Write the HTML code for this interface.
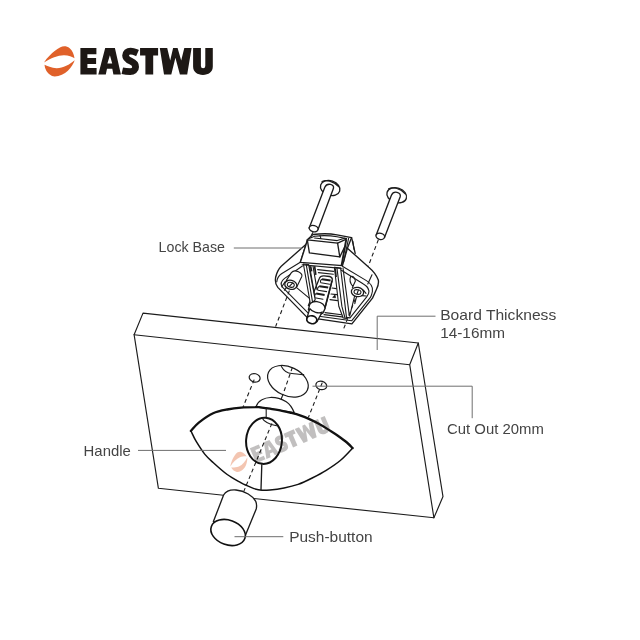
<!DOCTYPE html>
<html>
<head>
<meta charset="utf-8">
<title>EASTWU Push Button Lock Diagram</title>
<style>
html,body{margin:0;padding:0;background:#fff;}
body{width:640px;height:640px;overflow:hidden;font-family:"Liberation Sans",sans-serif;}
svg{display:block;will-change:transform;}
text{font-family:"Liberation Sans",sans-serif;}
.ln{fill:none;stroke:#1c1c1c;stroke-width:1.35;stroke-linecap:round;stroke-linejoin:round;}
.lw{fill:#fff;stroke:#1c1c1c;stroke-width:1.35;stroke-linecap:round;stroke-linejoin:round;}
.th{fill:none;stroke:#1c1c1c;stroke-width:1.1;stroke-linecap:round;stroke-linejoin:round;}
.tw{fill:#fff;stroke:#1c1c1c;stroke-width:1.1;stroke-linecap:round;stroke-linejoin:round;}
.ds{fill:none;stroke:#1c1c1c;stroke-width:1.1;stroke-dasharray:4 3;}
.ld{fill:none;stroke:#6e6e6e;stroke-width:1;}
.lb{font-size:14.4px;fill:#444;}
</style>
</head>
<body>
<svg width="640" height="640" viewBox="0 0 640 640">
<rect width="640" height="640" fill="#fff"/>

<!-- ===== LOGO ===== -->
<g id="logo">
  <g id="icon" fill="#e0612a">
    <path d="M44 62.6 C46.5 58.5 52 52 60.4 47.3 C63 46 66.5 45.8 69.7 48.2 C72.5 50.5 74 54.5 74.5 58.2 C72.5 56.8 68.5 55.4 64.1 55.2 C58 55.1 51 58 44 62.6 Z"/>
    <path d="M74.7 60.2 C73.8 63.5 71 67.5 67.9 70.7 C64.5 74 59.5 76.2 54.75 76.4 C51 76.3 48 73.5 46.3 70.7 C45.2 68.7 44.6 66.8 44.5 64.8 C47 66.3 51.5 67.8 56.6 68.2 C63 68.3 69.5 64.5 74.7 60.2 Z"/>
  </g>
  <g id="word" fill="#1d1815" stroke="none">
    <path d="M80.4 48.06 H96.4 V54.3 H87.4 V58.06 H96.1 V64 H87.4 V68.06 H96.6 V74.6 H80.4 Z"/>
    <path fill-rule="evenodd" d="M105.2 48.06 H114.9 L120.9 74.6 H113.4 L112.3 68.7 H107 L105.8 74.6 H98.3 Z M109.9 55.3 L107.4 63.4 H112.2 Z"/>
    <path d="M137.5 53.1 C135 52 133.4 51.1 130.6 51.1 C127.6 51.1 125.6 52.8 125.6 55.6 C125.6 58.6 128 60 130.8 61.2 C133.6 62.4 135.6 63.9 135.6 66.9 C135.6 70 133.3 71.6 130.2 71.6 C127.3 71.6 125 71.4 122.3 70.8" fill="none" stroke="#1d1815" stroke-width="6.8"/>
    <path d="M140.06 48.06 H158.1 V55.56 H153.2 V74.6 H145.4 V55.56 H140.06 Z"/>
    <path d="M159.8 48.06 H167.2 L170.2 60.6 L173.1 48.06 H177.6 L181.2 60.6 L184.3 48.06 H191.6 L187.2 74.6 H179.9 L175.4 57.8 L171.3 74.6 H164 Z"/>
    <path d="M193.1 48.06 H200.9 V66 A2.2 2.2 0 0 0 205.3 66 V48.06 H212.8 V66.5 C212.8 72 208.5 74.9 202.95 74.9 C197.4 74.9 193.1 72 193.1 66.5 Z"/>
  </g>
</g>

<!-- ===== BOARD ===== -->
<g id="board" style="stroke-width:1.15">
  <path class="lw" style="stroke-width:1.15" d="M134.1 334.7 L143 313.1 L418.3 343 L443 496.6 L433.9 517.8 L158.4 488.3 Z"/>
  <path class="ln" style="stroke-width:1.15" d="M134.1 334.7 L409.7 364.7 L433.9 517.8 M409.7 364.7 L418.3 343"/>
</g>

<!-- ===== HOLES ===== -->
<g id="holes">
  <ellipse class="lw" style="stroke-width:1.2" cx="254.65" cy="377.85" rx="5.5" ry="4.2" transform="rotate(15 254.65 377.85)"/>
  <ellipse class="lw" style="stroke-width:1.2" cx="287.9" cy="381.3" rx="21.4" ry="14.3" transform="rotate(25 287.9 381.3)"/>
  <ellipse class="lw" style="stroke-width:1.2" cx="321.3" cy="385.4" rx="5.5" ry="4.2" transform="rotate(15 321.3 385.4)"/>
  <path class="th" d="M281.4 366.5 C283.5 370.5 287.5 373.3 292 373.5 C296 373.8 300.5 374.7 303.7 374.6"/>
</g>

<!-- push button top behind handle -->
<path class="lw" style="stroke-width:1.25" d="M256.1 406.6 C257.5 403 259.5 401 261.9 399.8 C264.5 398.4 267 397.6 270.3 397.5 C273.5 397.4 276 397.7 278.75 398.4 C281.5 399.2 284 400.3 286.25 401.7 C289.5 403.8 292.4 408 294.2 412.6 Z"/>

<!-- ===== HANDLE ===== -->
<g id="handle">
  <path d="M190.9 430.9 C192.3 429.5 195.4 425.3 199.1 422.4 C202.8 419.5 208.4 415.4 213.1 413.3 C217.8 411.2 222.5 410.4 227.2 409.5 C231.9 408.6 236.6 408.0 241.2 407.6 C245.9 407.2 252.2 407.2 255.3 407.2 C258.4 407.1 257.6 407.1 260.0 407.3 C262.4 407.6 266.9 408.2 270.0 408.7 C273.1 409.2 275.4 409.5 278.8 410.2 C282.1 410.9 286.5 411.7 290.0 412.6 C293.5 413.5 296.8 414.3 300.0 415.4 C303.2 416.5 306.3 417.7 309.4 419.1 C312.5 420.5 315.6 422.0 318.8 423.8 C321.9 425.5 325.0 427.4 328.1 429.4 C331.2 431.4 334.4 433.3 337.5 435.5 C340.6 437.7 344.4 440.4 346.9 442.5 C349.4 444.6 351.7 447.2 352.6 448.1 L352.6 448.1 C350.6 450.2 344.7 456.8 340.3 460.5 C335.9 464.2 330.9 467.4 326.2 470.3 C321.6 473.2 316.9 475.6 312.2 478.0 C307.5 480.4 302.8 482.8 298.1 484.4 C293.4 486.0 288.8 487.0 284.1 487.9 C279.4 488.8 273.7 489.6 270.0 490.0 C266.3 490.4 264.7 490.5 262.0 490.3 C259.3 490.1 256.5 489.4 254.0 488.6 C251.5 487.8 249.0 486.6 246.9 485.6 C244.8 484.7 244.5 484.8 241.2 482.9 C238.0 481.0 231.9 477.9 227.2 474.5 C222.5 471.1 216.8 465.9 213.1 462.5 C209.3 459.1 207.5 457.6 204.7 454.1 C201.9 450.6 198.6 445.3 196.2 441.4 C193.9 437.5 191.8 432.6 190.9 430.9 Z" fill="#fff" stroke="none"/>
  <path d="M352.6 448.1 C350.6 450.2 344.7 456.8 340.3 460.5 C335.9 464.2 330.9 467.4 326.2 470.3 C321.6 473.2 316.9 475.6 312.2 478.0 C307.5 480.4 302.8 482.8 298.1 484.4 C293.4 486.0 288.8 487.0 284.1 487.9 C279.4 488.8 273.7 489.6 270.0 490.0 C266.3 490.4 264.7 490.5 262.0 490.3 C259.3 490.1 256.5 489.4 254.0 488.6 C251.5 487.8 249.0 486.6 246.9 485.6 C244.8 484.7 244.5 484.8 241.2 482.9 C238.0 481.0 231.9 477.9 227.2 474.5 C222.5 471.1 216.8 465.9 213.1 462.5 C209.3 459.1 207.5 457.6 204.7 454.1 C201.9 450.6 198.6 445.3 196.2 441.4 C193.9 437.5 191.8 432.6 190.9 430.9" fill="none" stroke="#111" stroke-width="1.5" stroke-linecap="round"/>
  <path d="M190.9 430.9 C192.3 429.5 195.4 425.3 199.1 422.4 C202.8 419.5 208.4 415.4 213.1 413.3 C217.8 411.2 222.5 410.4 227.2 409.5 C231.9 408.6 236.6 408.0 241.2 407.6 C245.9 407.2 252.2 407.2 255.3 407.2 C258.4 407.1 257.6 407.1 260.0 407.3 C262.4 407.6 266.9 408.2 270.0 408.7 C273.1 409.2 275.4 409.5 278.8 410.2 C282.1 410.9 286.5 411.7 290.0 412.6 C293.5 413.5 296.8 414.3 300.0 415.4 C303.2 416.5 306.3 417.7 309.4 419.1 C312.5 420.5 315.6 422.0 318.8 423.8 C321.9 425.5 325.0 427.4 328.1 429.4 C331.2 431.4 334.4 433.3 337.5 435.5 C340.6 437.7 344.4 440.4 346.9 442.5 C349.4 444.6 351.7 447.2 352.6 448.1" fill="none" stroke="#111" stroke-width="2.3" stroke-linecap="round"/>
  <ellipse cx="264" cy="440.8" rx="17.9" ry="23.1" fill="#fff" stroke="#111" stroke-width="2" transform="rotate(4 264 440.8)"/>
  <path class="th" d="M266.2 407.8 L266.2 417.2"/>
  <path class="th" d="M262.2 418.2 C264 421.4 268 424 276.6 425.8"/>
  <path class="ln" d="M261.8 464.6 L261 489.8"/>
</g>

<!-- ===== PUSH BUTTON ===== -->
<g id="pushbtn">
  <path class="lw" d="M213.4 521.6 L223.6 495 C226 491 231 489.6 236 490 C245 490.8 253 496 255.8 501.5 C256.8 504 256.8 506.5 256.2 509 L245.2 535.8 Z"/>
  <ellipse cx="228.1" cy="532.5" rx="17.8" ry="12.3" fill="#fff" stroke="#111" stroke-width="1.6" transform="rotate(20 228.1 532.5)"/>
</g>

<!-- dashed guides -->
<g id="dashes">
  <path class="ds" d="M292.4 367.4 L282.6 395.4"/>
  <path class="ln" style="stroke-width:1.2" d="M282.6 395.4 L281.2 399"/>
  <path class="ds" d="M271.9 423.4 L243.9 491.1"/>
  <path class="ds" d="M254.2 379.6 L243.1 407"/>
  <path class="ds" d="M322.3 382.6 L308.4 417.4"/>
  <path class="ds" d="M378.4 239.6 L368.1 266.6"/>
  <path class="ds" d="M313 232.3 L311 236"/>
</g>

<!-- ===== SCREWS ===== -->
<g id="screws">
  <g id="screw1">
    <ellipse class="lw" cx="330.2" cy="188" rx="10" ry="7.3" transform="rotate(18 330.2 188)"/>
    <path class="th" d="M322 181.6 C326 179.6 333 180.6 338.6 186.6"/>
    <path class="lw" d="M309.2 228.1 L324.8 187.3 C326 184.5 328.5 184 330.5 184.4 C333 185 334 186.5 333.4 188.6 L318.1 229.2 Z"/>
    <ellipse class="lw" cx="313.6" cy="228.6" rx="4.5" ry="3.1" transform="rotate(15 313.6 228.6)"/>
  </g>
  <g id="screw2">
    <ellipse class="lw" cx="396.7" cy="195.3" rx="10.1" ry="7.3" transform="rotate(18 396.7 195.3)"/>
    <path class="th" d="M388.6 188.8 C392.6 186.8 399.6 187.8 405.2 193.8"/>
    <path class="lw" d="M376.1 235.2 L391.4 195.2 C392.6 192.4 395 191.9 397 192.3 C399.5 192.9 400.8 194.6 400.2 196.8 L384.6 237.2 Z"/>
    <ellipse class="lw" cx="380.3" cy="236.3" rx="4.4" ry="3.1" transform="rotate(15 380.3 236.3)"/>
  </g>
</g>

<!-- ===== LOCK BASE (placeholder) ===== -->
<g id="lockbase">
  <!-- silhouette fill -->
  <path fill="#fff" stroke="none" d="M306.1 244.2 L307.3 239.8 L313 234.5 C320 233.6 330 233.5 337 234.8 L351.6 237.6 L355.2 253.1 L368.75 267.2 C373 271 377 276 378.5 282 C378.6 285 377.5 288 376.2 290 L372.5 298.1 L351.9 323.9 L306.6 316.9 L277.5 287 C275 284 274.8 280 275.8 276.5 C277 272 279 268.5 281.25 266.25 Z"/>
  <!-- outer edges -->
  <path class="ln" d="M306.1 244.2 L281.25 266.25 C279 268.5 276.6 273 275.6 277.5 C275 281.5 275.8 285 277.8 287.4 L306.6 316.9"/>
  <path class="ln" d="M318 318.9 L351.9 323.9 L372.5 298.1 L376.4 289.5 C378.2 286 378.9 283 378.3 280 C376.5 275 373 270.8 368.75 267.2 L347.4 248.2"/>
  <!-- flange face line A (left) -->
  <path class="th" d="M300.3 262.2 L281.5 273.8 C278.5 276 277 278.8 276.8 281.8"/>
  <!-- tower left face -->
  <path class="ln" d="M306.1 244.2 L300.3 262.2"/>
  <!-- inner rim left -->
  <path class="th" d="M302.4 266 L284.6 278.4 C281.2 281 280.4 284.4 282.4 287.2 L308 312.8"/>
  <!-- flange face line A (right) + bottom -->
  <path class="th" d="M342.4 266.2 L366 280.4 C370.5 283 373.2 287 372.4 291.5 C372 293.5 371.5 295.2 370.6 297.2 L351.6 320.8 L319 316.2"/>
  <!-- inner rim right -->
  <path class="th" d="M341.4 270.2 L363 283.8 C367.6 286.4 369.6 290 368.6 293.4 L366.9 296.6 L350 317.9 L324 314.6"/>
  <path class="th" d="M372 274.7 L367.8 284"/>

  <!-- left screw tube + boss -->
  <path class="tw" d="M286.2 280.6 L291.4 272.6 C293 270.6 296 270.6 298.5 271.8 C301 273 302.4 274.6 301.8 276.4 L297 286.6 Z"/>
  <ellipse class="tw" style="stroke-width:1.3" cx="290.8" cy="284.8" rx="6.1" ry="4.5" transform="rotate(12 290.8 284.8)"/>
  <ellipse class="th" cx="290.8" cy="284.8" rx="3.5" ry="2.4" transform="rotate(12 290.8 284.8)"/>
  <path class="th" d="M292.8 282.8 L289.6 286.2"/>
  <path class="th" d="M285.2 281.6 L281.8 286.8 M286.6 287.4 L284.4 290.2"/>
  <path class="th" d="M296.6 287.6 L311 299.6"/>
  <!-- right screw boss -->
  <path class="th" d="M350.6 276.6 C349.4 279.6 350.2 283.5 353 286.6 M355.4 281 L352.4 287.4 M350.6 276.6 C352.6 275.4 354.6 277 355.4 281"/>
  <ellipse class="tw" style="stroke-width:1.3" cx="357.5" cy="292" rx="6.2" ry="4.6" transform="rotate(10 357.5 292)"/>
  <ellipse class="th" cx="357.5" cy="292" rx="3.5" ry="2.3" transform="rotate(10 357.5 292)"/>
  <path class="th" d="M358.4 290 L357 294"/>
  <path class="th" d="M354.6 296.2 L349.8 315.6 M356.6 296.6 L354.8 303.6"/>
  <path class="th" d="M363.4 290.2 L366 293.4 M361.8 295.6 L366.2 296"/>

  <!-- centre: back plate lines -->
  <path class="th" d="M317.6 269.6 L333.6 271.4 M318.4 272.6 L333.4 274.2"/>
  <!-- centre pin body w/ slots -->
  <path class="tw" style="stroke-width:1.3" d="M308.4 305.6 L319.3 278.4 C320 276.4 321.8 275.7 324 275.8 L329.6 276.5 C331.8 277 332.6 278.6 332.2 280.6 L325 308.4 Z"/>
  <path d="M322 279.2 L330.6 280.6" stroke="#1c1c1c" stroke-width="2" fill="none"/>
  <path d="M319.4 286.2 L328.2 287.6" stroke="#1c1c1c" stroke-width="2" fill="none"/>
  <path d="M316.2 293.6 L324.6 295" stroke="#1c1c1c" stroke-width="2" fill="none"/>
  <path class="th" d="M322 279.2 C320.4 280 320 281.8 321 282.8 L329.6 284.2 M319.4 286.2 C317.6 287.2 317.2 289.2 318 290.2 L326.6 291.6 M316.2 293.6 C314.4 294.6 314 296.8 314.8 297.8 L323 299.2"/>
  <path d="M332 280.6 L325.4 306" stroke="#1c1c1c" stroke-width="1.5" fill="none"/>
  <!-- right of pin: small box and triangle -->
  <path class="th" d="M332 288 L336.4 288.6 M331 294 L336.8 294.6 M330 299.6 L337.6 300.6"/>
  <path d="M332.6 297.4 L335 294.8 L335.6 297.8 Z" fill="#111" stroke="#111" stroke-width="0.6"/>
  <!-- bottom interior lines -->
  <path class="th" d="M325 312.6 L343.6 315"/>

  <!-- left leg -->
  <path class="tw" d="M303.4 264 L308.6 264.6 L315.2 299.6 L310.6 305.2 Z"/>
  <path class="th" d="M306.2 264.4 L312.6 302.4"/>
  <path class="th" d="M309.6 266 L314.8 296.4 M313 266.2 L317 289.6"/>
  <path d="M310.6 266.2 L311.6 271.4" stroke="#1c1c1c" stroke-width="1.7" fill="none"/>
  <path d="M314.6 266.2 L315.8 274.8" stroke="#1c1c1c" stroke-width="1.7" fill="none"/>
  <!-- right leg -->
  <path class="tw" d="M334.4 267.3 L340.6 268 L346.6 318.4 L343.2 318 L338.8 306.2 Z"/>
  <path class="th" d="M336.9 267.7 L341.9 306.4 L345 318"/>
  <path class="th" d="M343 268 L349.4 316"/>
  <path d="M335.2 268.4 L336.2 277" stroke="#1c1c1c" stroke-width="1.5" fill="none"/>

  <!-- pin collar + shaft + cap -->
  <path class="lw" d="M309.2 306.6 C309 303.5 312.6 301.2 317 301.6 C321.6 302.2 325.2 305.2 325 308.6 L323 313 C320 316 311 313 308.4 309.6 Z"/>
  <path class="lw" d="M307 317.6 L309.8 308.6 C312 312 319 314 322.2 312 L317 321.6 Z"/>
  <ellipse cx="311.8" cy="319.7" rx="5.1" ry="3.9" fill="#fff" stroke="#111" stroke-width="1.7" transform="rotate(12 311.8 319.7)"/>

  <!-- tower -->
  <path class="lw" d="M306.1 244.2 L307.3 239.8 L313 234.5 C320 233.6 330 233.5 337 234.8 L351.6 237.6 L347.4 248.2 L342.5 265.6 L300.4 262.3 Z"/>
  <path class="th" d="M302.2 264.8 L341.2 268.4"/>
  <path class="ln" d="M351.6 237.6 L355.2 253.4"/>
  <path class="th" d="M352.8 241 L354 249.4"/>
  <path d="M346.2 239.6 L341.6 265.4" stroke="#1c1c1c" stroke-width="1.9" fill="none"/>
  <path class="th" d="M348.6 238.4 L343.6 262"/>
  <!-- box -->
  <path class="lw" d="M307.3 239.8 L337.6 243.2 L339.8 256.9 L309.4 252.9 Z"/>
  <path class="ln" d="M337.6 243.2 L346.4 239.2 M339.8 256.9 L345 246.4"/>
  <path class="th" d="M308.6 238.8 L314.6 236.2 C321 235.5 330 235.5 337 236.8 L346.6 238.6"/>
  <path class="th" d="M314.6 238 L337.2 240.6 L344.6 238.2 M320 235.6 L321 238.8"/>
  </g>


<g id="dashes2">
  <path class="ds" d="M289.4 290.6 L275.6 326.6"/>
  <path class="ds" d="M355.4 298.6 L342.8 331"/>
</g>

<!-- ===== LEADER LINES ===== -->
<g id="leaders">
  <path class="ld" d="M233.8 248 L302 248"/>
  <path class="ld" d="M138 450.4 L226 450.4"/>
  <path class="ld" d="M234.5 536.7 L283.3 536.7"/>
  <path class="ld" d="M435.5 316.2 L377.2 316.2 L377.2 350"/>
  <path class="ld" d="M312.5 386.2 L472.2 386.2 L472.2 418.2"/>
</g>

<!-- ===== LABELS ===== -->
<g id="labels" class="lb">
  <text x="158.6" y="251.6" textLength="66.4" lengthAdjust="spacingAndGlyphs">Lock Base</text>
  <text x="83.6" y="455.6" textLength="47.2" lengthAdjust="spacingAndGlyphs">Handle</text>
  <text x="289.2" y="542" textLength="83.4" lengthAdjust="spacingAndGlyphs">Push-button</text>
  <text x="440.2" y="320.2" textLength="116" lengthAdjust="spacingAndGlyphs">Board Thickness</text>
  <text x="440.2" y="337.6" textLength="64.8" lengthAdjust="spacingAndGlyphs">14-16mm</text>
  <text x="447" y="433.9" textLength="96.8" lengthAdjust="spacingAndGlyphs">Cut Out 20mm</text>
</g>

<!-- ===== WATERMARK ===== -->
<g id="watermark">
  <g transform="translate(238.75 461.9) rotate(-23.3) scale(0.62) translate(-59.3 -61.3)" opacity="0.36">
    <use href="#icon"/>
  </g>
  <g transform="translate(249.8 448.3) rotate(-23.3) scale(0.616) translate(-80.4 -48.06)" opacity="0.27">
    <use href="#word"/>
  </g>
</g>
</svg>
</body>
</html>
